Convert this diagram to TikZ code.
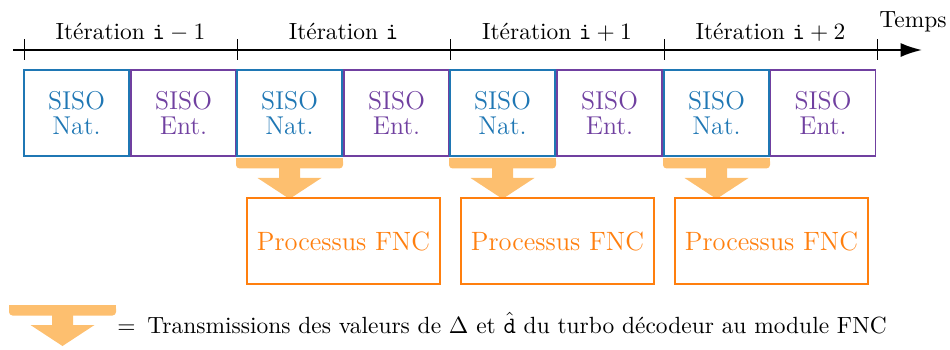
\documentclass[tikz,border=0pt]{standalone}
\usepackage{amsmath,amssymb}
\usepackage{xcolor}
\usepackage{tikz}
\usetikzlibrary{arrows.meta,positioning,calc}
\definecolor{bleuNat}{RGB}{31,119,180}
\definecolor{violetEnt}{RGB}{112,64,160}
\definecolor{orangeFNC}{RGB}{255,127,14}
\definecolor{orangeClair}{RGB}{253,191,111}
\newcommand{\iter}{\mathtt{i}}
\tikzset{
  siso/.style={draw, thick, minimum width=1.575cm, minimum height=1.29cm, align=center,
               font=\fontsize{11}{10.5}\selectfont, inner sep=2pt},
  nat/.style={siso, draw=bleuNat, text=bleuNat},
  ent/.style={siso, draw=violetEnt, text=violetEnt},
  fnc/.style={draw=orangeFNC, text=orangeFNC, thick, minimum width=2.895cm, minimum height=1.29cm,
              font=\fontsize{11.3}{13}\selectfont},
  axe/.style={-{Latex[length=3.2mm,width=2.1mm]}, thick},
  graduation/.style={thin},
  lab/.style={anchor=base, inner sep=0pt},
  transfert/.pic={
    \fill[orangeClair] (-53.5,1) rectangle (53.5,6);
    \fill[orangeClair, rounded corners=1.5pt] (-53.5,1) rectangle (53.5,11.5);
    \fill[orangeClair] (-10.5,11) rectangle (10.5,21.3) (-32,21) -- (32,21) -- (0,42) -- cycle;
  },
}

\begin{document}
\begin{tikzpicture}[x=0.015cm, y=-0.015cm]
    \useasboundingbox (0,0) rectangle (950,349);
    % axe du temps
    \coordinate (debut) at (13,50);
    \coordinate (fin) at (922,50);
    \coordinate (k0) at (24,50);
    \coordinate (k1) at (237,50);
    \coordinate (k2) at (450,50);
    \coordinate (k3) at (664,50);
    \coordinate (k4) at (877,50);
    \draw[axe] (debut) -- (fin);
    \draw[graduation] (k0) ++(0,-11) -- ++(0,21) (k1) ++(0,-11) -- ++(0,21) (k2) ++(0,-11) -- ++(0,21)
      (k3) ++(0,-11) -- ++(0,21) (k4) ++(0,-11) -- ++(0,21);
    \node[lab] (temps) at (913,27) {Temps};
    \node[lab] (it1) at (130.5,39) {Itération $\iter-1$};
    \node[lab] (it2) at (343.5,39) {Itération $\iter$};
    \node[lab] (it3) at (557,39) {Itération $\iter+1$};
    \node[lab] (it4) at (770.5,39) {Itération $\iter+2$};
    % decodeurs SISO
    \node[nat] (nat1) at (76.5,113) {SISO\\ Nat.};
    \node[ent] (ent1) at (183.5,113) {SISO\\ Ent.};
    \node[nat] (nat2) at (289.5,113) {SISO\\ Nat.};
    \node[ent] (ent2) at (396.5,113) {SISO\\ Ent.};
    \node[nat] (nat3) at (502.5,113) {SISO\\ Nat.};
    \node[ent] (ent3) at (609.5,113) {SISO\\ Ent.};
    \node[nat] (nat4) at (716.5,113) {SISO\\ Nat.};
    \node[ent] (ent4) at (823,113) {SISO\\ Ent.};
    % transferts vers FNC
    \pic at (nat2.south) {transfert};
    \pic at (nat3.south) {transfert};
    \pic at (nat4.south) {transfert};
    \node[fnc] (fnc1) at (343.5,241) {Processus FNC};
    \node[fnc] (fnc2) at (557.5,241) {Processus FNC};
    \node[fnc] (fnc3) at (771.5,241) {Processus FNC};
    % legende
    \pic at (62.5,304) {transfert};
    \node[anchor=base west, inner sep=0pt] (legende) at (117,333) {$=$\enspace Transmissions des valeurs
      de $\Delta$ et $\hat{\mathtt{d}}$ du turbo décodeur au module FNC};
  \end{tikzpicture}
\end{document}
